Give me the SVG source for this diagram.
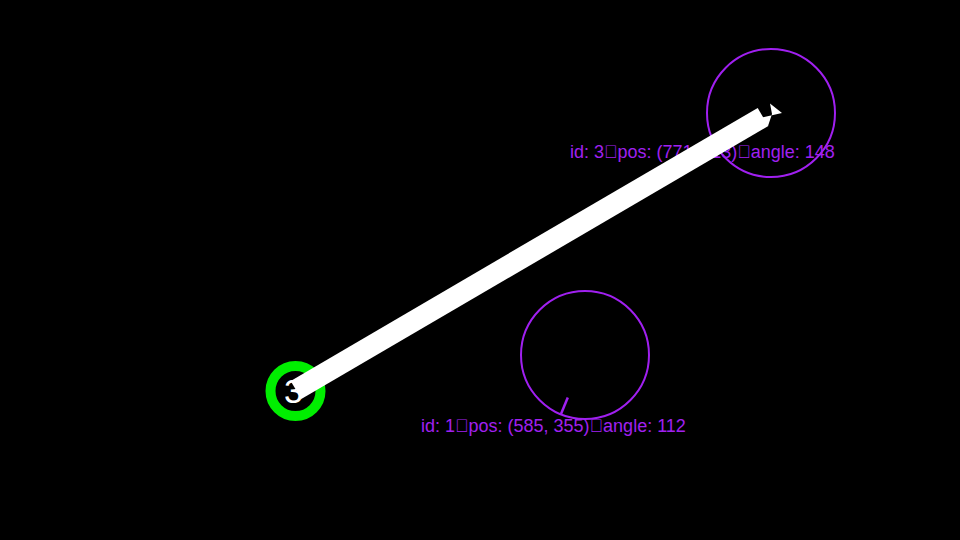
<svg xmlns="http://www.w3.org/2000/svg" width="960" height="540" viewBox="0 0 960 540">
<style>
.zone{fill:none;stroke:#a020f0;stroke-width:2}
.tick{stroke:#a020f0;stroke-width:2.5}
.lbl{fill:#a020f0;font-family:"Liberation Sans",Arial,sans-serif;font-size:18px}
</style>
<rect width="960" height="540" fill="#000"/>
<g id="node1">
<circle class="zone" cx="585" cy="355" r="64"/>
<line class="tick" x1="567.8" y1="397.6" x2="561" y2="414"/>
<text class="lbl" x="421" y="432">id: 1&#xE000;pos: (585, 355)&#xE000;angle: 112</text>
</g>
<g id="node3">
<circle class="zone" cx="771" cy="113" r="64"/>
<line class="tick" x1="732" y1="137.4" x2="716.7" y2="146.9"/>
<text class="lbl" x="570" y="158">id: 3&#xE000;pos: (771, 113)&#xE000;angle: 148</text>
</g>
<g id="agent">
<circle cx="295.5" cy="391" r="25" fill="none" stroke="#00ee00" stroke-width="10"/>
</g>
<g id="connectors">
<polygon fill="#fff" points="290.7,380.9 757.7,107.9 768.3,126.1 301.3,399.1"/>
<polygon fill="#fff" points="782,113 770,103.5 772,114 768,126 760,118"/>
</g>
<text x="293.5" y="403" text-anchor="middle" fill="#fff" font-family="Liberation Sans,Arial,sans-serif" font-size="34">3</text>
</svg>
